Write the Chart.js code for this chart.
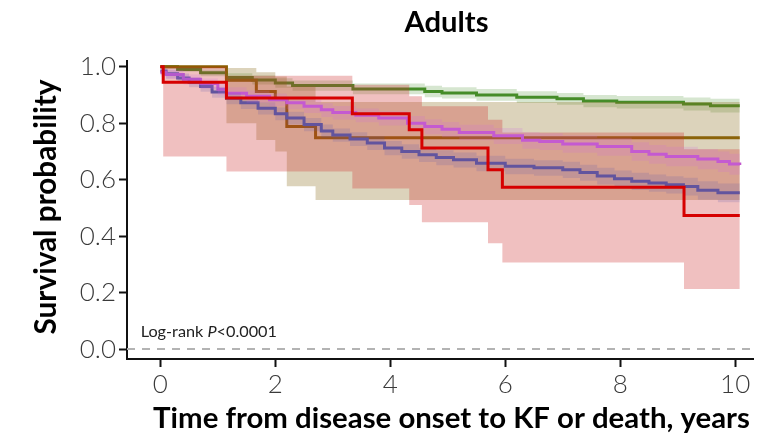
<!DOCTYPE html>
<html><head><meta charset="utf-8">
<script src="https://cdn.jsdelivr.net/npm/chart.js@4.4.1/dist/chart.umd.min.js"></script>
<style>html,body{margin:0;padding:0;background:#fff}canvas{display:block}</style>
</head><body>
<canvas id="c" width="766" height="438"></canvas>
<script>
const TITLE = 'Adults';
const X_TITLE = 'Time from disease onset to KF or death, years';
const Y_TITLE = 'Survival probability';
const ANNOT = ['Log-rank ', 'P', '<0.0001'];
const X_TICKS = [0, 2, 4, 6, 8, 10];
const Y_TICKS = [0, 0.2, 0.4, 0.6, 0.8, 1.0];
const X_MIN = -0.58, X_MAX = 10.31, Y_MIN = -0.035, Y_MAX = 1.02;

const GREEN_T  = [0, 0.3, 0.7, 1.15, 1.6, 2.0, 2.3, 3.35, 4.6, 4.9, 5.5, 6.2, 6.9, 7.36, 7.94, 9.1, 9.57, 10.08];
const GREEN_S  = [1.0, 0.99, 0.978, 0.962, 0.953, 0.942, 0.933, 0.921, 0.912, 0.907, 0.900, 0.892, 0.886, 0.878, 0.874, 0.868, 0.862, 0.862];
const GREEN_HI = [1.0, 0.998, 0.99, 0.977, 0.969, 0.959, 0.951, 0.94, 0.932, 0.927, 0.921, 0.913, 0.907, 0.9, 0.896, 0.891, 0.886, 0.886];
const GREEN_LO = [1.0, 0.982, 0.966, 0.947, 0.937, 0.925, 0.915, 0.902, 0.892, 0.887, 0.879, 0.871, 0.865, 0.856, 0.852, 0.845, 0.838, 0.838];

const BROWN_T  = [0, 1.15, 1.67, 2.0, 2.2, 2.7, 10.08];
const BROWN_S  = [1.0, 0.952, 0.912, 0.885, 0.788, 0.748, 0.748];
const BROWN_HI = [1.0, 0.995, 0.98, 0.965, 0.93, 0.875, 0.875];
const BROWN_LO = [1.0, 0.8, 0.74, 0.7, 0.577, 0.528, 0.528];

const PURPLE_T  = [0, 0.1, 0.3, 0.5, 0.7, 0.9, 1.15, 1.4, 1.7, 2.0, 2.2, 2.5, 2.8, 3.0, 3.3, 3.6, 3.9, 4.2, 4.5, 4.8, 5.1, 5.5, 6.0, 6.5, 7.0, 7.3, 7.6, 7.9, 8.2, 8.5, 8.8, 9.1, 9.35, 9.7, 10.08];
const PURPLE_S  = [0.985, 0.975, 0.96, 0.945, 0.93, 0.91, 0.888, 0.872, 0.853, 0.833, 0.818, 0.795, 0.772, 0.758, 0.744, 0.73, 0.712, 0.70, 0.688, 0.678, 0.67, 0.658, 0.647, 0.642, 0.635, 0.625, 0.613, 0.603, 0.594, 0.588, 0.582, 0.576, 0.562, 0.554, 0.554];
const PURPLE_HI = [0.995, 0.99, 0.976, 0.962, 0.948, 0.929, 0.908, 0.893, 0.874, 0.855, 0.84, 0.818, 0.795, 0.781, 0.768, 0.754, 0.737, 0.725, 0.713, 0.704, 0.696, 0.685, 0.674, 0.669, 0.663, 0.653, 0.642, 0.632, 0.624, 0.618, 0.612, 0.607, 0.594, 0.586, 0.586];
const PURPLE_LO = [0.97, 0.958, 0.943, 0.927, 0.911, 0.89, 0.867, 0.85, 0.831, 0.81, 0.795, 0.771, 0.748, 0.734, 0.719, 0.705, 0.686, 0.674, 0.662, 0.651, 0.643, 0.63, 0.619, 0.614, 0.606, 0.596, 0.583, 0.573, 0.563, 0.557, 0.551, 0.544, 0.529, 0.52, 0.52];

const MAGENTA_T  = [0, 0.1, 0.4, 0.7, 1.0, 1.15, 1.5, 1.9, 2.2, 2.5, 2.8, 3.0, 3.4, 3.8, 4.3, 4.6, 4.9, 5.2, 5.8, 6.3, 6.6, 7.0, 7.6, 8.2, 8.5, 8.8, 9.35, 9.7, 9.9, 10.08];
const MAGENTA_S  = [0.98, 0.972, 0.955, 0.94, 0.92, 0.906, 0.895, 0.883, 0.872, 0.86, 0.847, 0.838, 0.828, 0.818, 0.80, 0.788, 0.778, 0.767, 0.755, 0.739, 0.735, 0.726, 0.717, 0.70, 0.69, 0.682, 0.673, 0.664, 0.655, 0.652];
const MAGENTA_HI = [0.993, 0.987, 0.972, 0.958, 0.94, 0.927, 0.916, 0.905, 0.894, 0.883, 0.87, 0.861, 0.852, 0.842, 0.825, 0.814, 0.804, 0.794, 0.783, 0.768, 0.764, 0.756, 0.748, 0.732, 0.723, 0.716, 0.708, 0.7, 0.692, 0.689];
const MAGENTA_LO = [0.965, 0.956, 0.937, 0.921, 0.899, 0.884, 0.872, 0.86, 0.849, 0.836, 0.822, 0.813, 0.803, 0.792, 0.773, 0.761, 0.75, 0.739, 0.726, 0.709, 0.705, 0.695, 0.685, 0.667, 0.656, 0.647, 0.637, 0.627, 0.617, 0.614];

const RED_T  = [0, 0.05, 1.15, 3.34, 4.33, 4.55, 5.70, 5.95, 9.11, 10.08];
const RED_S  = [1.0, 0.945, 0.889, 0.833, 0.777, 0.712, 0.635, 0.573, 0.473, 0.473];
const RED_HI = [1.0, 1.0, 0.968, 0.936, 0.895, 0.86, 0.812, 0.767, 0.708, 0.708];
const RED_LO = [1.0, 0.682, 0.629, 0.569, 0.51, 0.449, 0.375, 0.307, 0.213, 0.213];

const REF_LINE_Y = 0;

const pts = (T, S) => T.map((t, i) => ({x: t, y: S[i]}));

function lineDs(T, S, color, order, width) {
  return {data: pts(T, S), borderColor: color, borderWidth: width || 3, stepped: 'before',
          fill: false, pointRadius: 0, order: order};
}
function bandDs(T, HI, LO, color, order) {
  return [
    {data: pts(T, HI), borderWidth: 0, borderColor: 'rgba(0,0,0,0)', backgroundColor: color,
     stepped: 'before', fill: '+1', pointRadius: 0, order: order},
    {data: pts(T, LO), borderWidth: 0, borderColor: 'rgba(0,0,0,0)', stepped: 'before',
     fill: false, pointRadius: 0, order: order}
  ];
}

const datasets = [
  lineDs(RED_T, RED_S, 'rgb(214,0,0)', 0, 3),
  ...bandDs(MAGENTA_T, MAGENTA_HI, MAGENTA_LO, 'rgba(205,100,225,0.18)', 3),
  ...bandDs(PURPLE_T, PURPLE_HI, PURPLE_LO, 'rgba(90,85,170,0.18)', 4),
  lineDs(MAGENTA_T, MAGENTA_S, 'rgb(195,88,205)', 5),
  lineDs(PURPLE_T, PURPLE_S, 'rgb(100,85,155)', 6),
  ...bandDs(RED_T, RED_HI, RED_LO, 'rgba(205,45,45,0.30)', 10),
  ...bandDs(BROWN_T, BROWN_HI, BROWN_LO, 'rgba(139,110,30,0.30)', 13),
  ...bandDs(GREEN_T, GREEN_HI, GREEN_LO, 'rgba(70,140,40,0.22)', 14),
  lineDs(BROWN_T, BROWN_S, 'rgb(139,95,0)', 22),
  lineDs(GREEN_T, GREEN_S, 'rgb(70,140,40)', 23),
  {data: [{x: X_MIN, y: REF_LINE_Y}, {x: X_MAX, y: REF_LINE_Y}], borderColor: '#b3b3b3', borderWidth: 2,
   borderDash: [8, 7], pointRadius: 0, fill: false, order: 30}
];

function fitFont(ctx, text, weight, style, family, target) {
  ctx.font = `${style} ${weight} 100px ${family}`;
  const w = ctx.measureText(text).width;
  return 100 * target / w;
}

const textPlugin = {
  id: 'texts',
  afterDraw(chart) {
    const c = chart.ctx;
    c.save();
    c.fillStyle = '#000';
    c.textBaseline = 'alphabetic';
    c.textAlign = 'center';
    let s = fitFont(c, TITLE, 'bold', 'normal', 'Lato', 84);
    c.font = `bold ${s}px Lato`;
    c.fillText(TITLE, 446.5, 32);
    s = fitFont(c, X_TITLE, 'bold', 'normal', 'Lato', 597);
    c.font = `bold ${s}px Lato`;
    c.fillText(X_TITLE, 451.5, 428);
    s = fitFont(c, Y_TITLE, 'bold', 'normal', 'Lato', 255);
    c.font = `bold ${s}px Lato`;
    c.translate(56, 207);
    c.rotate(-Math.PI / 2);
    c.fillText(Y_TITLE, 0, 0);
    c.restore();
    c.save();
    c.fillStyle = '#222';
    c.textBaseline = 'alphabetic';
    c.textAlign = 'left';
    const full = ANNOT.join('');
    const as = fitFont(c, full, 'normal', 'normal', 'Lato', 137);
    let x = 140.7;
    ANNOT.forEach((part, i) => {
      c.font = `${i === 1 ? 'italic' : 'normal'} normal ${as}px Lato`;
      c.fillText(part, x, 336.7);
      x += c.measureText(part).width;
    });
    c.restore();
  }
};

new Chart(document.getElementById('c'), {
  type: 'line',
  data: {datasets},
  plugins: [textPlugin],
  options: {
    responsive: false, animation: false, devicePixelRatio: 1,
    layout: {padding: {top: 61, right: 13, left: 0, bottom: 0}},
    plugins: {legend: {display: false}, tooltip: {enabled: false}, title: {display: false}},
    elements: {point: {radius: 0}, line: {tension: 0}},
    scales: {
      x: {
        type: 'linear', min: X_MIN, max: X_MAX,
        afterBuildTicks: s => { s.ticks = X_TICKS.map(v => ({value: v})); },
        afterFit: s => { s.height = 79; },
        grid: {drawOnChartArea: false, drawTicks: true, tickLength: 8, tickWidth: 2, tickColor: '#111'},
        border: {display: true, color: '#111', width: 2},
        ticks: {font: {family: 'Lato', size: 26, weight: '300'}, color: '#3a3a3a', padding: 2,
                maxRotation: 0, autoSkip: false}
      },
      y: {
        type: 'linear', min: Y_MIN, max: Y_MAX,
        afterBuildTicks: s => { s.ticks = Y_TICKS.map(v => ({value: v})); },
        afterFit: s => { s.width = 127; },
        grid: {drawOnChartArea: false, drawTicks: true, tickLength: 8, tickWidth: 2, tickColor: '#111'},
        border: {display: true, color: '#111', width: 2},
        ticks: {font: {family: 'Lato', size: 26, weight: '300'}, color: '#3a3a3a', padding: 3,
                callback: v => Number(v).toFixed(1), autoSkip: false}
      }
    }
  }
});
</script>
</body></html>
